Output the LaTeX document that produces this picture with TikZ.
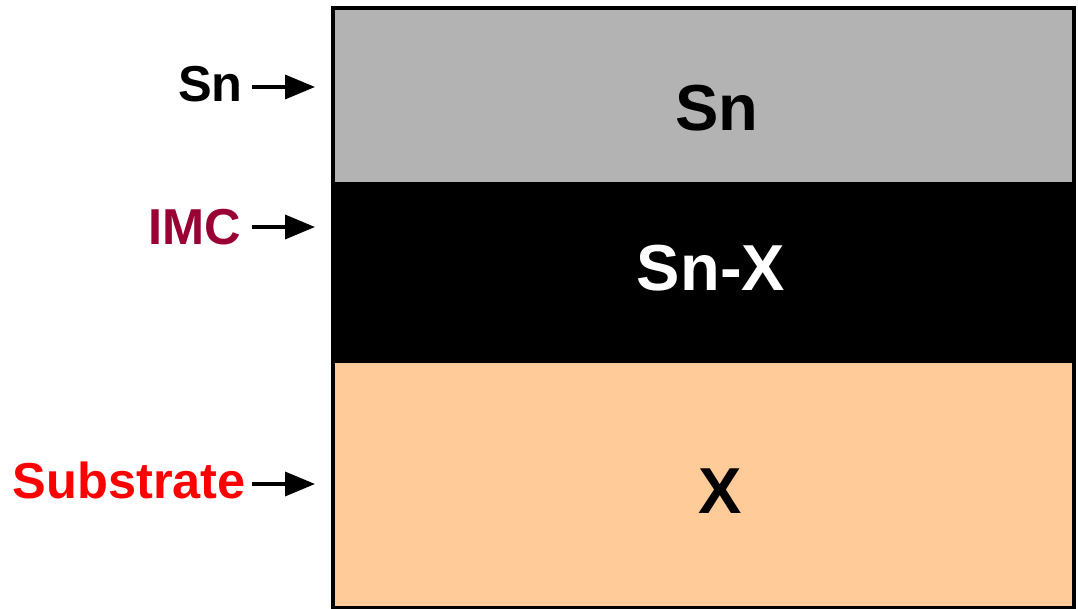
\documentclass[tikz,border=0pt]{standalone}
\usepackage{fontspec}
\setmainfont{Liberation Sans}
\usetikzlibrary{arrows.meta}
\definecolor{layergray}{HTML}{B3B3B3}
\definecolor{layerorange}{HTML}{FFCC99}
\definecolor{imcred}{HTML}{990033}
\definecolor{subred}{HTML}{FF0000}
\begin{document}
\begin{tikzpicture}[x=1pt,y=-1pt,
  layer/.style={draw=none,inner sep=0pt,anchor=north west,minimum width=741pt},
  bigtext/.style={font=\fontsize{65}{65}\selectfont\bfseries,inner sep=0pt,anchor=base},
  sidelabel/.style={font=\fontsize{50.5}{50.5}\selectfont\bfseries,inner sep=0pt,anchor=base east},
  pointer/.style={line width=3.5pt,-{Triangle[length=30pt,width=24pt]}}]
\useasboundingbox (0,0) rectangle (1078,609);
% layers
\node[layer,fill=layergray,minimum height=176pt] (snlayer) at (332,6) {};
\node[layer,fill=black,minimum height=181pt] (imclayer) at (332,182) {};
\node[layer,fill=layerorange,minimum height=243pt] (sublayer) at (332,363) {};
\node[draw=black,line width=4pt,fill=none,inner sep=0pt,minimum width=741pt,minimum height=600pt,anchor=north west] (frame) at (331,6) {};
% layer texts
\node[bigtext] (sntext) at (717,131) {Sn};
\node[bigtext,text=white] (snxtext) at (711,291) {Sn-X};
\node[bigtext] (xtext) at (720,513) {X};
% side labels
\node[sidelabel] (snlbl) at (243,102) {Sn};
\node[sidelabel,text=imcred] (imclbl) at (241,245) {IMC};
\node[sidelabel,text=subred] (sublbl) at (246,498) {Substrate};
% arrow ends
\coordinate (snend) at (315,87);
\coordinate (imcend) at (315,227);
\coordinate (subend) at (315,484);
\coordinate (snstart) at (252,87);
\coordinate (imcstart) at (252,227);
\coordinate (substart) at (252,484);
\draw[pointer] (snstart) -- (snend);
\draw[pointer] (imcstart) -- (imcend);
\draw[pointer] (substart) -- (subend);
\end{tikzpicture}
\end{document}
